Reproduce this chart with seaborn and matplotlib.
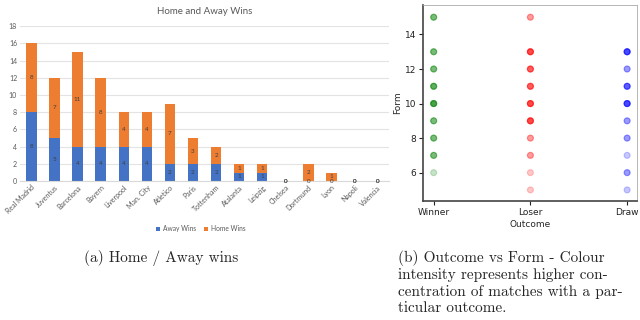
import matplotlib
matplotlib.use("Agg")
import matplotlib.pyplot as plt
import numpy as np
import pandas as pd
import seaborn as sns

# --- data -------------------------------------------------------------
teams = ["Real Madrid", "Juventus", "Barcelona", "Bayern", "Liverpool",
         "Man. City", "Atletico", "Paris", "Tottenham", "Atalanta",
         "Leipzig", "Chelsea", "Dortmund", "Lyon", "Napoli", "Valencia"]
away_wins = [8, 5, 4, 4, 4, 4, 2, 2, 2, 1, 1, 0, 0, 0, 0, 0]
home_wins = [8, 7, 11, 8, 4, 4, 7, 3, 2, 1, 1, 0, 2, 1, 0, 0]

outcomes = ["Winner", "Loser", "Draw"]
winner_form = [6, 7, 8, 9, 10, 11, 12, 13, 15]
winner_count = [1, 3, 3, 3, 5, 4, 3, 3, 3]
loser_form = [5, 6, 7, 8, 9, 10, 11, 12, 13, 15]
loser_count = [1, 1, 2, 2, 5, 5, 4, 4, 5, 2]
draw_form = [5, 6, 7, 8, 9, 10, 11, 12, 13]
draw_count = [1, 2, 1, 2, 2, 5, 4, 2, 5]

sns.set_style("white")

fig = plt.figure(figsize=(6.4, 3.2), dpi=100)

# --- (a) stacked bars --------------------------------------------------
ax1 = fig.add_axes([0.031, 0.434, 0.577, 0.484])
bars = pd.DataFrame({"team": teams, "away": away_wins, "home": home_wins})
sns.barplot(data=bars, x="team", y="away", color="#4472C4", width=0.45,
            saturation=1, linewidth=0, ax=ax1, label="Away Wins")
sns.barplot(data=bars, x="team", y="home", color="#ED7D31", width=0.45,
            saturation=1, linewidth=0, bottom=bars["away"], ax=ax1,
            label="Home Wins")
for cont in ax1.containers:
    ax1.bar_label(cont, label_type="center", fontsize=4.5, color="#404040",
                  family="Lato")
ax1.set_ylim(0, 18)
ax1.set_yticks(range(0, 19, 2))
ax1.yaxis.grid(True, color="#e3e3e3", lw=0.8)
ax1.set_axisbelow(True)
for s in ["top", "right", "left"]:
    ax1.spines[s].set_visible(False)
ax1.spines["bottom"].set_color("#d9d9d9")
ax1.set_xlabel("")
ax1.set_ylabel("")
ax1.tick_params(axis="both", length=0, labelsize=5, colors="#595959", pad=2)
plt.setp(ax1.get_xticklabels(), rotation=45, ha="right", rotation_mode="anchor",
         family="Lato")
plt.setp(ax1.get_yticklabels(), family="Lato")
ax1.set_title("Home and Away Wins", fontsize=7, color="#595959", family="Lato",
              pad=9)
ax1.legend(loc="upper center", bbox_to_anchor=(0.49, -0.245), ncol=2,
           frameon=False, handlelength=0.6, handleheight=0.6,
           columnspacing=1.2, handletextpad=0.4, labelcolor="#595959",
           prop={"family": "Lato", "size": 4.8})

# --- (b) outcome vs form -----------------------------------------------
rows = []
for name, forms, counts in [("Winner", winner_form, winner_count),
                            ("Loser", loser_form, loser_count),
                            ("Draw", draw_form, draw_count)]:
    for f, c in zip(forms, counts):
        rows += [(name, f)] * c
matches = pd.DataFrame(rows, columns=["Outcome", "Form"])

ax2 = fig.add_axes([0.661, 0.372, 0.334, 0.612])
sns.stripplot(data=matches, x="Outcome", y="Form", hue="Outcome", order=outcomes,
              palette={"Winner": "green", "Loser": "red", "Draw": "blue"},
              jitter=False, alpha=0.22, size=4.3, linewidth=0.8,
              edgecolor="face", legend=False, ax=ax2)
ax2.set_xlim(-0.11, 2.1)
ax2.set_ylim(4.36, 15.7)
ax2.set_yticks([6, 8, 10, 12, 14])
ax2.tick_params(axis="both", length=3, width=0.8, labelsize=6.5, pad=2,
                colors="#222222", direction="out")
ax2.tick_params(bottom=True, left=True)
ax2.set_xlabel("Outcome", fontsize=6.5, labelpad=2)
ax2.set_ylabel("Form", fontsize=6.5, labelpad=2)
for s in ["left", "bottom"]:
    ax2.spines[s].set_color("#444444")
    ax2.spines[s].set_linewidth(1.2)
for s in ["top", "right"]:
    ax2.spines[s].set_color("#aaaaaa")
    ax2.spines[s].set_linewidth(0.6)

# --- captions ------------------------------------------------------------
fig.text(0.251, 0.195, "(a) Home / Away wins", family="cmr10", fontsize=11,
         ha="center", va="center")
fig.text(0.622, 0.218,
         "(b) Outcome vs Form - Colour\nintensity represents higher con-\n"
         "centration of matches with a par-\nticular outcome.",
         family="cmr10", fontsize=11, ha="left", va="top", linespacing=1.2)

fig.savefig("out.png", dpi=100)
